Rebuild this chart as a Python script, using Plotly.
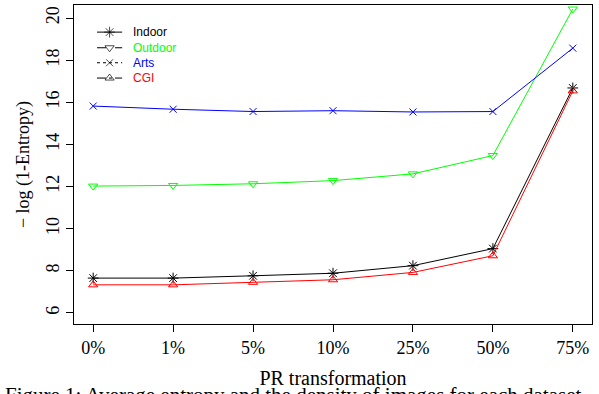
import plotly.graph_objects as go

categories = ["0%", "1%", "5%", "10%", "25%", "50%", "75%"]
indoor = [7.65, 7.65, 7.76, 7.88, 8.24, 9.05, 16.68]
outdoor = [12.02, 12.05, 12.13, 12.28, 12.6, 13.47, 20.43]
arts = [15.82, 15.67, 15.56, 15.6, 15.54, 15.56, 18.57]
cgi = [7.33, 7.33, 7.45, 7.57, 7.92, 8.71, 16.54]
y_ticks = [6, 8, 10, 12, 14, 16, 18, 20]
series_names = ["Indoor", "Outdoor", "Arts", "CGI"]

colors = ["#000000", "#00ff00", "#0000ff", "#ff0000"]
symbols = ["asterisk-open", "triangle-down-open", "x-thin-open", "triangle-up-open"]
sizes = [9, 8, 7, 8]
dashes = ["solid", "dash", "dot", "dashdot"]
values = [indoor, outdoor, arts, cgi]

fig = go.Figure()
for vals, col, sym, sz in zip(values, colors, symbols, sizes):
    fig.add_trace(go.Scatter(
        x=categories, y=vals, mode="lines+markers", showlegend=False,
        line=dict(color=col, width=1),
        marker=dict(symbol=sym, size=sz, color=col, line=dict(color=col, width=1)),
    ))

# manual legend (paper-like overlay axis 0..1)
leg_x0, leg_x1, leg_txt = 0.0444, 0.093, 0.110
leg_rows = [0.915, 0.866, 0.819, 0.771]
annotations = []
for name, col, sym, sz, dash, ly in zip(series_names, colors, symbols, sizes, dashes, leg_rows):
    fig.add_trace(go.Scatter(
        x=[leg_x0, (leg_x0 + leg_x1) / 2, leg_x1], y=[ly, ly, ly],
        xaxis="x2", yaxis="y2", mode="lines+markers", showlegend=False,
        hoverinfo="skip",
        line=dict(color="#000000", width=1, dash=dash),
        marker=dict(symbol=sym, size=[0, sz, 0], color="#000000",
                    line=dict(color="#000000", width=1)),
    ))
    annotations.append(dict(
        text=name, xref="paper", yref="paper", x=leg_txt, y=ly,
        xanchor="left", yanchor="middle", showarrow=False,
        font=dict(family="Liberation Sans", size=12, color=col),
    ))

serif = "Liberation Serif"
annotations.append(dict(
    text="Figure 1: Average entropy and the density of images for each dataset",
    xref="paper", yref="paper", x=-0.137, y=-0.180,
    xanchor="left", yanchor="top", showarrow=False,
    font=dict(family=serif, size=21, color="black"),
))

fig.update_layout(
    width=599, height=394,
    margin=dict(l=74, r=7, t=5, b=70),
    paper_bgcolor="white", plot_bgcolor="white",
    showlegend=False,
    xaxis=dict(
        type="category", range=[-0.24, 6.24],
        showline=True, mirror=True, linecolor="black", linewidth=1,
        ticks="outside", ticklen=7, tickcolor="black", tickwidth=1,
        showgrid=False, zeroline=False,
        tickfont=dict(family=serif, size=18, color="black"),
        title=dict(text="PR transformation", font=dict(family=serif, size=20, color="black"), standoff=14),
    ),
    yaxis=dict(
        range=[5.47, 20.62],
        tickvals=y_ticks, ticktext=[str(v) for v in y_ticks], tickangle=-90,
        showline=True, mirror=True, linecolor="black", linewidth=1,
        ticks="outside", ticklen=7, tickcolor="black", tickwidth=1,
        showgrid=False, zeroline=False,
        tickfont=dict(family=serif, size=18, color="black"),
        title=dict(text="\u2212 log (1-Entropy)", font=dict(family=serif, size=18, color="black"), standoff=8),
    ),
    xaxis2=dict(overlaying="x", range=[0, 1], visible=False, fixedrange=True),
    yaxis2=dict(overlaying="y", range=[0, 1], visible=False, fixedrange=True),
    annotations=annotations,
)

fig.write_html("out.html")
